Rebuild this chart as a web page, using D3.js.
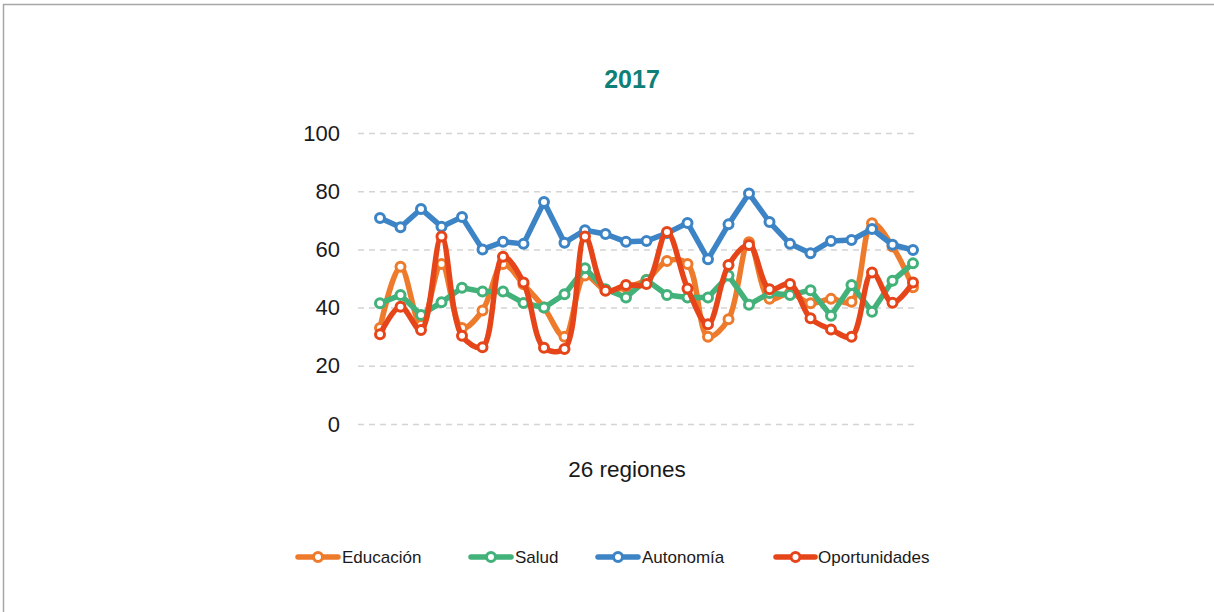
<!DOCTYPE html>
<html>
<head>
<meta charset="utf-8">
<script src="https://cdn.jsdelivr.net/npm/d3@7"></script>
<style>
  body { margin: 0; background: #fff; }
  svg { font-family: "Liberation Sans", Arial, sans-serif; }
</style>
</head>
<body>
<svg id="chart"></svg>
<script>
// 27 puntos a lo largo del eje
const regions = d3.range(1, 28);
const yTicks = [0, 20, 40, 60, 80, 100];

const educacion = [33, 54, 34, 55, 33, 39, 55, 48, 40, 30, 51, 46, 47, 49.5, 56, 55, 30, 36, 62.5, 43, 45, 41.5, 43, 42, 69, 61, 47];
const salud = [41.5, 44.3, 37.5, 41.8, 46.8, 45.5, 45.5, 41.6, 40, 44.6, 53.5, 46.3, 43.5, 49.5, 44.3, 43.5, 43.5, 51, 41, 45, 44.3, 46, 37.2, 47.8, 38.6, 49.2, 55.2];
const autonomia = [70.8, 67.6, 73.9, 67.8, 71.1, 60.0, 62.6, 61.9, 76.3, 62.3, 66.6, 65.3, 62.6, 62.9, 65.6, 69.1, 56.6, 68.6, 79.2, 69.4, 61.9, 58.7, 62.9, 63.2, 67.0, 61.6, 59.8];
const oportunidades = [30.8, 40.3, 32.3, 64.4, 30.3, 26.4, 57.5, 48.6, 26.2, 25.8, 64.4, 45.8, 47.8, 48.1, 66, 46.6, 34.3, 54.6, 61.5, 46.3, 48.1, 36.3, 32.5, 30.0, 52.1, 41.7, 48.6];

const series = [
  { name: "Educación", values: educacion, color: "#EE7A2C", smooth: true },
  { name: "Salud", values: salud, color: "#42B17A", smooth: false },
  { name: "Autonomía", values: autonomia, color: "#3C84C5", smooth: false },
  { name: "Oportunidades", values: oportunidades, color: "#E6451A", smooth: true }
];

const W = 1214, H = 612;
const svg = d3.select("#chart").attr("width", W).attr("height", H);

// marco del gráfico
svg.append("rect")
  .attr("x", 3.5).attr("y", 4.5)
  .attr("width", W + 10).attr("height", H + 10)
  .attr("fill", "none")
  .attr("stroke", "#a6a6a6")
  .attr("stroke-width", 1.5);

const x = d3.scalePoint().domain(regions).range([380, 913]);
const y = d3.scaleLinear().domain([0, 100]).range([424, 133]);

svg.append("text")
  .attr("x", 632).attr("y", 88)
  .attr("text-anchor", "middle")
  .attr("font-weight", "bold")
  .style("font-size", "25px")
  .attr("fill", "#0E8078")
  .text("2017");

// rejilla y etiquetas del eje y
const yAxis = d3.axisLeft(y).tickValues(yTicks).tickSize(-557).tickPadding(18);
const yg = svg.append("g")
  .attr("transform", "translate(358,0)")
  .call(yAxis);
yg.select(".domain").remove();
yg.selectAll(".tick line")
  .attr("stroke", "#d4d4d4")
  .attr("stroke-width", 1.5)
  .attr("stroke-dasharray", "6,5");
yg.selectAll(".tick text")
  .style("font-size", "22px")
  .attr("fill", "#1a1a1a")
  .attr("font-family", "Liberation Sans, Arial, sans-serif");

svg.append("text")
  .attr("x", 627).attr("y", 477)
  .attr("text-anchor", "middle")
  .style("font-size", "22.5px")
  .attr("fill", "#1a1a1a")
  .text("26 regiones");

series.forEach(s => {
  const line = d3.line()
    .x((d, i) => x(regions[i]))
    .y(d => y(d))
    .curve(s.smooth ? d3.curveCatmullRom.alpha(0.5) : d3.curveLinear);

  const g = svg.append("g");
  g.append("path")
    .datum(s.values)
    .attr("d", line)
    .attr("fill", "none")
    .attr("stroke", s.color)
    .attr("stroke-width", 5.5)
    .attr("stroke-linejoin", "round")
    .attr("stroke-linecap", "round");

  g.selectAll("circle")
    .data(s.values)
    .join("circle")
    .attr("cx", (d, i) => x(regions[i]))
    .attr("cy", d => y(d))
    .attr("r", 4.5)
    .attr("fill", "#fff")
    .attr("stroke", s.color)
    .attr("stroke-width", 3);
});

// leyenda
const legendPos = [
  { x0: 298, x1: 338, tx: 342 },
  { x0: 471, x1: 511, tx: 515 },
  { x0: 598, x1: 638, tx: 642 },
  { x0: 776, x1: 815, tx: 818 }
];
series.forEach((s, i) => {
  const p = legendPos[i];
  const lg = svg.append("g");
  lg.append("line")
    .attr("x1", p.x0).attr("x2", p.x1)
    .attr("y1", 557).attr("y2", 557)
    .attr("stroke", s.color)
    .attr("stroke-width", 5.5)
    .attr("stroke-linecap", "round");
  lg.append("circle")
    .attr("cx", (p.x0 + p.x1) / 2).attr("cy", 557)
    .attr("r", 4.5)
    .attr("fill", "#fff")
    .attr("stroke", s.color)
    .attr("stroke-width", 3);
  lg.append("text")
    .attr("x", p.tx).attr("y", 563)
    .style("font-size", "17px")
    .attr("fill", "#1a1a1a")
    .text(s.name);
});
</script>
</body>
</html>
